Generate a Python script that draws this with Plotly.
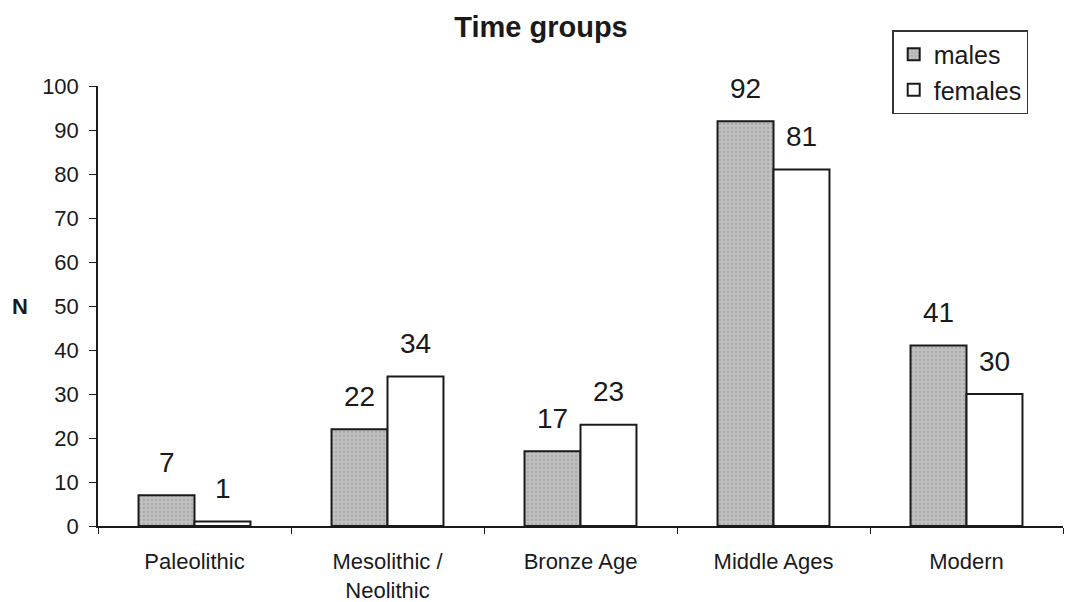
import plotly.graph_objects as go

# Counts of burials per time group, split by sex
categories = ["Paleolithic", "Mesolithic /<br>Neolithic", "Bronze Age", "Middle Ages", "Modern"]
males = [7, 22, 17, 92, 41]
females = [1, 34, 23, 81, 30]
y_ticks = [0, 10, 20, 30, 40, 50, 60, 70, 80, 90, 100]

FONT = "Arial, Liberation Sans, Helvetica, sans-serif"
INK = "#1a1a1a"

fig = go.Figure()
fig.add_trace(go.Bar(
    name="males", x=categories, y=males,
    marker=dict(
        color="#bdbdbd",
        line=dict(color=INK, width=2),
        pattern=dict(shape=".", fgcolor="#8f8f8f", bgcolor="#c0c0c0", size=4, solidity=0.25),
    ),
))
fig.add_trace(go.Bar(
    name="females", x=categories, y=females,
    marker=dict(color="white", line=dict(color=INK, width=2)),
))

# Value labels above each bar
annotations = []
for cat, m, f in zip(categories, males, females):
    for val, dx in ((m, -28), (f, 28)):
        annotations.append(dict(
            x=cat, y=val, xref="x", yref="y", text=str(val),
            showarrow=False, xshift=dx, yshift=33, yanchor="middle",
            font=dict(family=FONT, size=28, color=INK),
        ))

# Axis name on the left, drawn horizontally
annotations.append(dict(
    text="<b>N</b>", xref="paper", yref="paper", x=-0.081, y=0.5,
    showarrow=False, xanchor="center", yanchor="middle",
    font=dict(family=FONT, size=22, color=INK),
))

fig.update_layout(
    width=1073, height=602,
    margin=dict(l=98, r=10, t=86, b=76),
    paper_bgcolor="white", plot_bgcolor="white",
    barmode="group", bargap=0.42, bargroupgap=0,
    title=dict(text="<b>Time groups</b>", x=541 / 1073, xanchor="center", xref="container",
               y=0.955, yanchor="middle",
               font=dict(family=FONT, size=29, color=INK)),
    font=dict(family=FONT, color=INK),
    showlegend=True,
    legend=dict(
        x=0.823, y=1.127, xanchor="left", yanchor="top",
        bordercolor="#333333", borderwidth=1.5, bgcolor="white",
        font=dict(family=FONT, size=25, color=INK),
        itemwidth=30, tracegroupgap=0,
    ),
    annotations=annotations,
)

fig.update_xaxes(
    automargin=False,
    showline=True, linecolor=INK, linewidth=1.5,
    ticks="outside", tickson="boundaries", ticklen=6, tickcolor=INK,
    tickfont=dict(family=FONT, size=22, color=INK),
    ticklabelstandoff=15, showgrid=False,
)
fig.update_yaxes(
    automargin=False,
    range=[0, 100], tickvals=y_ticks,
    showline=True, linecolor=INK, linewidth=1.5,
    ticks="outside", ticklen=7, tickcolor=INK,
    tickfont=dict(family=FONT, size=22, color=INK),
    ticklabelstandoff=6, showgrid=False, zeroline=False,
)

fig.write_html("out.html")
